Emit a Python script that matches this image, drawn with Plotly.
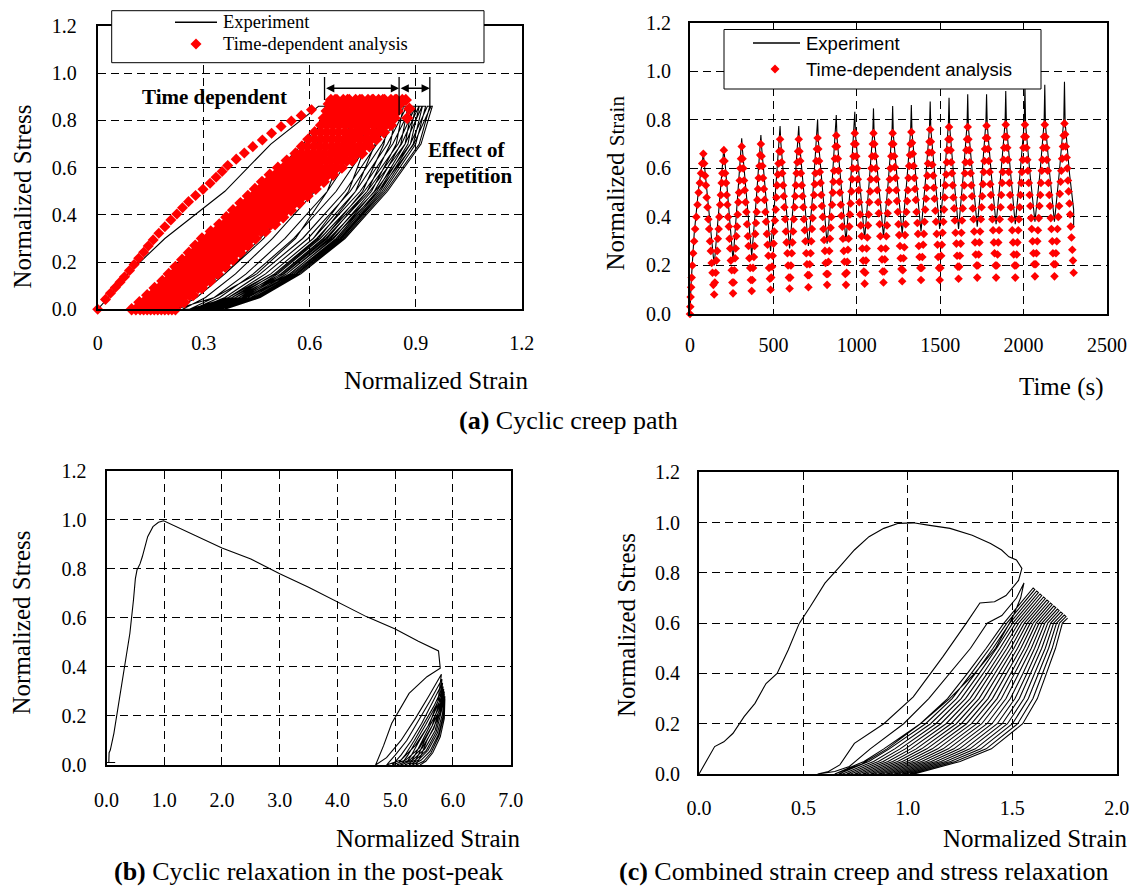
import plotly.graph_objects as go

W, H = 1137, 887
SERIF = "Liberation Serif"
SANS = "Liberation Sans"

# ---------------- tick labels ----------------
STRESS_TICKS = [0, 0.2, 0.4, 0.6, 0.8, 1.0, 1.2]
STRESS_TEXT = ["0.0", "0.2", "0.4", "0.6", "0.8", "1.0", "1.2"]
A_X_TICKS = [0, 0.3, 0.6, 0.9, 1.2]
A_X_TEXT = ["0", "0.3", "0.6", "0.9", "1.2"]
T_TICKS = [0, 500, 1000, 1500, 2000, 2500]
T_TEXT = ["0", "500", "1000", "1500", "2000", "2500"]
B_X_TICKS = [0, 1, 2, 3, 4, 5, 6, 7]
B_X_TEXT = ["0.0", "1.0", "2.0", "3.0", "4.0", "5.0", "6.0", "7.0"]
C_X_TICKS = [0, 0.5, 1.0, 1.5, 2.0]
C_X_TEXT = ["0.0", "0.5", "1.0", "1.5", "2.0"]

# ---------------- (a) left: experiment (strain at stress levels, alternating load/unload) ----------------
EXPA_LEVELS = [0.0, 0.05, 0.15, 0.3, 0.5, 0.7, 0.86]
EXPA_BRANCHES = [
    [0.0, 0.03, 0.085, 0.19, 0.36, 0.49, 0.625],
    [0.13, 0.24, 0.36, 0.47, 0.56, 0.62, 0.645],
    [0.13, 0.17, 0.23, 0.32, 0.45, 0.58, 0.68],
    [0.22, 0.33, 0.45, 0.56, 0.65, 0.70, 0.71],
    [0.22, 0.28, 0.36, 0.46, 0.58, 0.68, 0.75],
    [0.26, 0.37, 0.49, 0.61, 0.71, 0.76, 0.78],
    [0.24, 0.305, 0.39, 0.495, 0.615, 0.71, 0.775],
    [0.27, 0.38, 0.505, 0.625, 0.73, 0.785, 0.805],
    [0.26, 0.33, 0.42, 0.53, 0.65, 0.74, 0.80],
    [0.28, 0.39, 0.52, 0.64, 0.75, 0.81, 0.83],
    [0.27, 0.345, 0.44, 0.555, 0.675, 0.765, 0.823],
    [0.29, 0.40, 0.528, 0.65, 0.763, 0.828, 0.848],
    [0.28, 0.36, 0.46, 0.58, 0.70, 0.79, 0.845],
    [0.30, 0.41, 0.535, 0.66, 0.775, 0.845, 0.865],
    [0.29, 0.37, 0.475, 0.595, 0.715, 0.805, 0.86],
    [0.308, 0.418, 0.543, 0.668, 0.783, 0.858, 0.878],
    [0.30, 0.38, 0.49, 0.61, 0.73, 0.82, 0.875],
    [0.315, 0.425, 0.55, 0.675, 0.79, 0.87, 0.89],
    [0.308, 0.39, 0.50, 0.62, 0.743, 0.835, 0.888],
    [0.323, 0.433, 0.555, 0.68, 0.795, 0.878, 0.90],
    [0.315, 0.40, 0.51, 0.63, 0.755, 0.85, 0.90],
    [0.33, 0.44, 0.56, 0.685, 0.80, 0.885, 0.91],
    [0.323, 0.408, 0.518, 0.638, 0.763, 0.86, 0.909],
    [0.335, 0.445, 0.563, 0.688, 0.805, 0.893, 0.919],
    [0.33, 0.415, 0.525, 0.645, 0.77, 0.87, 0.918],
    [0.34, 0.45, 0.565, 0.69, 0.81, 0.90, 0.928],
    [0.34, 0.425, 0.535, 0.655, 0.785, 0.885, 0.933],
    [0.35, 0.455, 0.57, 0.695, 0.815, 0.91, 0.94],
    [0.35, 0.435, 0.545, 0.665, 0.795, 0.895, 0.943],
    [0.36, 0.46, 0.575, 0.70, 0.82, 0.915, 0.947],
]

# ---------------- (a) left: time-dependent analysis ----------------
RED_A_FIRST_X = [0.0, 0.022, 0.036, 0.05, 0.063, 0.076, 0.09, 0.103, 0.116, 0.13, 0.143,
                 0.157, 0.173, 0.19, 0.207, 0.224, 0.24, 0.257, 0.277, 0.298, 0.318, 0.335,
                 0.352, 0.368, 0.392, 0.415, 0.439, 0.466, 0.492, 0.519, 0.548, 0.576, 0.605]
RED_A_FIRST_Y = [0.0, 0.042, 0.068, 0.092, 0.115, 0.138, 0.164, 0.19, 0.216, 0.242, 0.268,
                 0.294, 0.322, 0.35, 0.378, 0.404, 0.43, 0.456, 0.482, 0.508, 0.534, 0.559,
                 0.584, 0.609, 0.636, 0.662, 0.689, 0.717, 0.746, 0.774, 0.798, 0.821, 0.845]
# stress levels of the analysis output (two interleaved sets)
RED_A_LEVELS = [0.0, 0.06, 0.12, 0.18, 0.24, 0.30, 0.36, 0.42, 0.48, 0.54, 0.60, 0.66,
                0.72, 0.78, 0.84, 0.887]
RED_A_LEVELS_B = [0.03, 0.09, 0.15, 0.21, 0.27, 0.33, 0.39, 0.45, 0.51, 0.57, 0.63, 0.69,
                  0.75, 0.81, 0.87, 0.887]
# reloading cycles, strain at RED_A_LEVELS
RED_A_CYCLES = [
    [0.096, 0.14, 0.183, 0.22, 0.258, 0.295, 0.344, 0.383, 0.425, 0.465, 0.51, 0.56, 0.596, 0.632, 0.648, 0.66],
    [0.12, 0.165, 0.209, 0.247, 0.285, 0.323, 0.373, 0.413, 0.455, 0.496, 0.542, 0.593, 0.63, 0.666, 0.683, 0.695],
    [0.14, 0.186, 0.231, 0.27, 0.309, 0.348, 0.4, 0.44, 0.484, 0.526, 0.573, 0.626, 0.663, 0.7, 0.718, 0.73],
    [0.16, 0.207, 0.253, 0.293, 0.334, 0.374, 0.426, 0.468, 0.513, 0.556, 0.604, 0.658, 0.697, 0.735, 0.752, 0.765],
    [0.18, 0.228, 0.275, 0.315, 0.357, 0.397, 0.451, 0.493, 0.539, 0.582, 0.631, 0.686, 0.725, 0.764, 0.782, 0.795],
    [0.2, 0.249, 0.297, 0.339, 0.381, 0.422, 0.477, 0.521, 0.567, 0.612, 0.662, 0.718, 0.759, 0.799, 0.817, 0.83],
    [0.22, 0.27, 0.319, 0.361, 0.404, 0.447, 0.502, 0.547, 0.594, 0.64, 0.691, 0.748, 0.789, 0.83, 0.849, 0.862],
]
# same cycles, strain at the first 15 of RED_A_LEVELS_B
RED_A_CYCLES_AB = [
    [0.118, 0.161, 0.201, 0.239, 0.276, 0.32, 0.364, 0.404, 0.445, 0.487, 0.535, 0.578, 0.614, 0.64, 0.654],
    [0.142, 0.187, 0.228, 0.266, 0.304, 0.348, 0.393, 0.434, 0.476, 0.519, 0.568, 0.612, 0.648, 0.675, 0.689],
    [0.163, 0.208, 0.25, 0.29, 0.329, 0.374, 0.42, 0.462, 0.505, 0.549, 0.60, 0.644, 0.682, 0.709, 0.724],
    [0.184, 0.23, 0.273, 0.314, 0.354, 0.40, 0.447, 0.49, 0.534, 0.58, 0.631, 0.677, 0.716, 0.744, 0.759],
    [0.204, 0.251, 0.295, 0.336, 0.377, 0.424, 0.472, 0.516, 0.561, 0.607, 0.659, 0.706, 0.745, 0.773, 0.789],
    [0.225, 0.273, 0.318, 0.36, 0.402, 0.45, 0.499, 0.544, 0.59, 0.637, 0.691, 0.739, 0.779, 0.808, 0.824],
    [0.245, 0.295, 0.34, 0.383, 0.425, 0.475, 0.525, 0.571, 0.617, 0.666, 0.72, 0.769, 0.81, 0.84, 0.856],
]
RED_A_HOLD = [[0.672], [0.707], [0.742], [0.777], [0.807], [0.842], [0.872]]
# intermediate cycles, strain at RED_A_LEVELS_B
RED_A_CYCLES_B = [
    [0.13, 0.174, 0.214, 0.253, 0.29, 0.334, 0.378, 0.419, 0.46, 0.503, 0.551, 0.594, 0.631, 0.657, 0.671, 0.677],
    [0.153, 0.198, 0.239, 0.278, 0.316, 0.361, 0.406, 0.448, 0.49, 0.534, 0.583, 0.628, 0.665, 0.692, 0.706, 0.712],
    [0.173, 0.219, 0.262, 0.302, 0.341, 0.387, 0.434, 0.477, 0.52, 0.565, 0.616, 0.661, 0.7, 0.727, 0.742, 0.748],
    [0.194, 0.241, 0.284, 0.325, 0.365, 0.412, 0.46, 0.503, 0.548, 0.593, 0.645, 0.692, 0.731, 0.759, 0.774, 0.78],
    [0.214, 0.262, 0.306, 0.348, 0.389, 0.437, 0.485, 0.53, 0.575, 0.622, 0.675, 0.722, 0.762, 0.79, 0.806, 0.812],
    [0.235, 0.284, 0.329, 0.372, 0.414, 0.462, 0.512, 0.557, 0.604, 0.651, 0.705, 0.754, 0.794, 0.824, 0.84, 0.846],
]
# same intermediate cycles, strain at the first 15 of RED_A_LEVELS
RED_A_CYCLES_BA = [
    [0.108, 0.152, 0.196, 0.233, 0.271, 0.309, 0.358, 0.398, 0.44, 0.48, 0.526, 0.576, 0.613, 0.649, 0.665],
    [0.13, 0.175, 0.22, 0.258, 0.297, 0.335, 0.386, 0.426, 0.469, 0.511, 0.557, 0.609, 0.646, 0.683, 0.70],
    [0.15, 0.197, 0.242, 0.282, 0.322, 0.361, 0.413, 0.454, 0.499, 0.541, 0.589, 0.642, 0.68, 0.718, 0.735],
    [0.17, 0.218, 0.264, 0.304, 0.345, 0.385, 0.438, 0.48, 0.526, 0.569, 0.618, 0.672, 0.711, 0.75, 0.767],
    [0.19, 0.239, 0.286, 0.327, 0.369, 0.41, 0.464, 0.507, 0.553, 0.597, 0.647, 0.702, 0.742, 0.781, 0.799],
    [0.21, 0.26, 0.308, 0.35, 0.393, 0.435, 0.49, 0.534, 0.581, 0.626, 0.677, 0.733, 0.774, 0.814, 0.833],
]
RED_A_TAIL_X = [0.882, 0.876]
RED_A_TAIL_Y = [0.85, 0.81]

# ---------------- (a) right: strain history ----------------
EXP_T = [0, 6, 25, 52, 76, 80, 84, 112, 145,
         174, 199, 203, 207, 230, 258,
         284, 306, 310, 314, 340, 370,
         398, 421, 425, 429, 454, 483,
         512, 536, 540, 544, 569, 597,
         625, 648, 652, 656, 681, 710,
         738, 761, 765, 769, 794, 822,
         850, 873, 877, 881, 906, 935,
         962, 984, 988, 992, 1018, 1047,
         1074, 1096, 1100, 1104, 1130, 1160,
         1188, 1211, 1215, 1219, 1244, 1272,
         1300, 1323, 1327, 1331, 1356, 1385,
         1413, 1436, 1440, 1444, 1469, 1497,
         1525, 1549, 1553, 1557, 1582, 1610,
         1638, 1661, 1665, 1669, 1694, 1722,
         1750, 1774, 1778, 1782, 1807, 1835,
         1864, 1889, 1893, 1897, 1922, 1950,
         1979, 2004, 2008, 2012, 2038, 2068,
         2098, 2123, 2127, 2131, 2156, 2185,
         2215, 2241, 2245, 2249, 2275, 2300, 2300]
EXP_V = [0.0, 0.12, 0.33, 0.52, 0.64, 0.67, 0.63, 0.42, 0.20,
         0.44, 0.66, 0.685, 0.65, 0.45, 0.22,
         0.47, 0.69, 0.724, 0.68, 0.47, 0.24,
         0.48, 0.70, 0.737, 0.69, 0.48, 0.26,
         0.50, 0.72, 0.774, 0.71, 0.50, 0.27,
         0.50, 0.72, 0.774, 0.71, 0.50, 0.28,
         0.51, 0.73, 0.802, 0.72, 0.51, 0.29,
         0.52, 0.74, 0.82, 0.73, 0.52, 0.30,
         0.53, 0.75, 0.833, 0.74, 0.53, 0.31,
         0.54, 0.75, 0.847, 0.74, 0.54, 0.32,
         0.54, 0.75, 0.857, 0.74, 0.54, 0.33,
         0.55, 0.76, 0.861, 0.75, 0.55, 0.34,
         0.56, 0.77, 0.875, 0.76, 0.56, 0.35,
         0.56, 0.78, 0.891, 0.77, 0.56, 0.35,
         0.57, 0.78, 0.905, 0.77, 0.57, 0.36,
         0.57, 0.79, 0.905, 0.78, 0.57, 0.37,
         0.58, 0.79, 0.919, 0.78, 0.58, 0.37,
         0.58, 0.79, 0.944, 0.78, 0.58, 0.38,
         0.58, 0.79, 0.944, 0.78, 0.58, 0.38,
         0.59, 0.80, 0.957, 0.79, 0.58, 0.43, 0.36]

# analysis: one row of times / values per rising or falling edge
RED_T_ROWS = [
    [0, 2, 4, 7, 10, 14, 19, 25, 31, 38, 45, 52, 59, 66, 73, 80],
    [85, 90, 95, 100, 105, 110, 115, 120, 125, 130, 135, 140, 145],
    [149, 154, 158, 163, 167, 172, 176, 181, 185, 190, 194, 199, 203],
    [207, 211, 216, 220, 224, 228, 233, 237, 241, 245, 250, 254, 258],
    [262, 266, 270, 274, 278, 282, 286, 290, 294, 298, 302, 306, 310],
    [315, 319, 324, 328, 333, 338, 342, 347, 351, 356, 361, 365, 370],
    [374, 378, 383, 387, 391, 395, 400, 404, 408, 412, 417, 421, 425],
    [429, 434, 438, 443, 447, 452, 456, 461, 465, 470, 474, 479, 483],
    [487, 492, 496, 501, 505, 509, 514, 518, 522, 527, 531, 536, 540],
    [544, 549, 553, 558, 562, 566, 571, 575, 579, 584, 588, 593, 597],
    [601, 605, 610, 614, 618, 622, 627, 631, 635, 639, 644, 648, 652],
    [656, 661, 665, 670, 674, 679, 683, 688, 692, 697, 701, 706, 710],
    [714, 718, 723, 727, 731, 735, 740, 744, 748, 752, 757, 761, 765],
    [769, 774, 778, 783, 787, 791, 796, 800, 804, 809, 813, 818, 822],
    [826, 830, 835, 839, 843, 847, 852, 856, 860, 864, 869, 873, 877],
    [881, 886, 890, 895, 899, 904, 908, 913, 917, 922, 926, 931, 935],
    [939, 943, 947, 951, 955, 959, 963, 968, 972, 976, 980, 984, 988],
    [993, 997, 1002, 1006, 1011, 1015, 1020, 1024, 1029, 1033, 1038, 1042, 1047],
    [1051, 1055, 1059, 1063, 1067, 1071, 1075, 1080, 1084, 1088, 1092, 1096, 1100],
    [1105, 1109, 1114, 1118, 1123, 1128, 1132, 1137, 1141, 1146, 1151, 1155, 1160],
    [1164, 1168, 1173, 1177, 1181, 1185, 1190, 1194, 1198, 1202, 1207, 1211, 1215],
    [1219, 1224, 1228, 1233, 1237, 1241, 1246, 1250, 1254, 1259, 1263, 1268, 1272],
    [1276, 1280, 1285, 1289, 1293, 1297, 1302, 1306, 1310, 1314, 1319, 1323, 1327],
    [1331, 1336, 1340, 1345, 1349, 1354, 1358, 1363, 1367, 1372, 1376, 1381, 1385],
    [1389, 1393, 1398, 1402, 1406, 1410, 1415, 1419, 1423, 1427, 1432, 1436, 1440],
    [1444, 1449, 1453, 1458, 1462, 1466, 1471, 1475, 1479, 1484, 1488, 1493, 1497],
    [1501, 1506, 1510, 1514, 1519, 1523, 1527, 1531, 1536, 1540, 1544, 1549, 1553],
    [1557, 1562, 1566, 1571, 1575, 1579, 1584, 1588, 1592, 1597, 1601, 1606, 1610],
    [1614, 1618, 1623, 1627, 1631, 1635, 1640, 1644, 1648, 1652, 1657, 1661, 1665],
    [1669, 1674, 1678, 1683, 1687, 1691, 1696, 1700, 1704, 1709, 1713, 1718, 1722],
    [1726, 1731, 1735, 1739, 1744, 1748, 1752, 1756, 1761, 1765, 1769, 1774, 1778],
    [1782, 1787, 1791, 1796, 1800, 1804, 1809, 1813, 1817, 1822, 1826, 1831, 1835],
    [1839, 1844, 1848, 1853, 1857, 1862, 1866, 1871, 1875, 1880, 1884, 1889, 1893],
    [1897, 1902, 1906, 1911, 1915, 1919, 1924, 1928, 1932, 1937, 1941, 1946, 1950],
    [1954, 1959, 1963, 1968, 1972, 1977, 1981, 1986, 1990, 1995, 1999, 2004, 2008],
    [2013, 2017, 2022, 2026, 2031, 2036, 2040, 2045, 2049, 2054, 2059, 2063, 2068],
    [2073, 2077, 2082, 2086, 2091, 2095, 2100, 2104, 2109, 2113, 2118, 2122, 2127],
    [2131, 2136, 2140, 2145, 2149, 2154, 2158, 2163, 2167, 2172, 2176, 2181, 2185],
    [2190, 2194, 2199, 2203, 2208, 2213, 2217, 2222, 2226, 2231, 2236, 2240, 2245],
    [2249, 2253, 2258, 2262, 2266, 2270, 2275, 2279, 2283, 2287, 2292, 2296, 2300],
]
RED_V_ROWS = [
    [0.0, 0.03, 0.07, 0.11, 0.15, 0.2, 0.25, 0.3, 0.35, 0.4, 0.45, 0.5, 0.54, 0.58, 0.62, 0.66],
    [0.62, 0.57, 0.53, 0.48, 0.44, 0.39, 0.35, 0.3, 0.26, 0.21, 0.17, 0.12, 0.08],
    [0.13, 0.17, 0.22, 0.26, 0.31, 0.35, 0.40, 0.45, 0.49, 0.54, 0.58, 0.63, 0.675],
    [0.63, 0.58, 0.54, 0.49, 0.45, 0.40, 0.36, 0.31, 0.27, 0.22, 0.18, 0.13, 0.085],
    [0.13, 0.18, 0.23, 0.27, 0.32, 0.36, 0.41, 0.46, 0.50, 0.55, 0.60, 0.64, 0.69],
    [0.64, 0.60, 0.55, 0.51, 0.46, 0.42, 0.37, 0.32, 0.28, 0.23, 0.19, 0.14, 0.095],
    [0.14, 0.19, 0.235, 0.28, 0.33, 0.375, 0.42, 0.47, 0.515, 0.56, 0.61, 0.655, 0.70],
    [0.65, 0.61, 0.56, 0.515, 0.47, 0.42, 0.38, 0.33, 0.285, 0.24, 0.19, 0.145, 0.10],
    [0.15, 0.195, 0.24, 0.29, 0.34, 0.385, 0.43, 0.48, 0.53, 0.575, 0.62, 0.67, 0.72],
    [0.67, 0.625, 0.58, 0.53, 0.485, 0.44, 0.39, 0.34, 0.295, 0.25, 0.20, 0.15, 0.105],
    [0.15, 0.20, 0.25, 0.295, 0.34, 0.39, 0.44, 0.485, 0.53, 0.58, 0.625, 0.67, 0.72],
    [0.67, 0.63, 0.58, 0.53, 0.485, 0.44, 0.39, 0.345, 0.30, 0.25, 0.205, 0.16, 0.11],
    [0.16, 0.205, 0.25, 0.30, 0.35, 0.395, 0.44, 0.49, 0.535, 0.58, 0.63, 0.68, 0.725],
    [0.68, 0.63, 0.585, 0.54, 0.49, 0.445, 0.40, 0.35, 0.305, 0.26, 0.21, 0.165, 0.12],
    [0.165, 0.215, 0.26, 0.31, 0.355, 0.40, 0.45, 0.50, 0.545, 0.59, 0.64, 0.69, 0.735],
    [0.69, 0.64, 0.59, 0.545, 0.50, 0.45, 0.405, 0.36, 0.31, 0.26, 0.215, 0.165, 0.12],
    [0.17, 0.215, 0.265, 0.31, 0.36, 0.41, 0.455, 0.505, 0.555, 0.60, 0.65, 0.70, 0.745],
    [0.70, 0.65, 0.60, 0.555, 0.51, 0.46, 0.41, 0.365, 0.32, 0.27, 0.22, 0.175, 0.125],
    [0.17, 0.22, 0.27, 0.315, 0.365, 0.41, 0.46, 0.505, 0.555, 0.60, 0.65, 0.70, 0.745],
    [0.70, 0.65, 0.60, 0.555, 0.51, 0.46, 0.415, 0.37, 0.32, 0.27, 0.225, 0.175, 0.13],
    [0.175, 0.225, 0.27, 0.32, 0.365, 0.415, 0.46, 0.51, 0.555, 0.60, 0.65, 0.70, 0.745],
    [0.70, 0.65, 0.605, 0.56, 0.51, 0.465, 0.42, 0.37, 0.325, 0.28, 0.23, 0.185, 0.135],
    [0.18, 0.23, 0.275, 0.325, 0.37, 0.42, 0.465, 0.51, 0.56, 0.61, 0.655, 0.70, 0.75],
    [0.705, 0.66, 0.61, 0.56, 0.515, 0.47, 0.42, 0.375, 0.33, 0.28, 0.235, 0.19, 0.14],
    [0.19, 0.235, 0.285, 0.33, 0.38, 0.43, 0.475, 0.52, 0.57, 0.62, 0.665, 0.71, 0.76],
    [0.71, 0.665, 0.615, 0.57, 0.52, 0.475, 0.425, 0.38, 0.33, 0.285, 0.235, 0.19, 0.14],
    [0.19, 0.24, 0.285, 0.335, 0.38, 0.43, 0.48, 0.53, 0.575, 0.625, 0.675, 0.72, 0.77],
    [0.72, 0.675, 0.625, 0.58, 0.53, 0.48, 0.435, 0.385, 0.335, 0.29, 0.24, 0.195, 0.145],
    [0.195, 0.24, 0.29, 0.335, 0.385, 0.435, 0.48, 0.53, 0.58, 0.625, 0.675, 0.72, 0.77],
    [0.72, 0.675, 0.625, 0.58, 0.53, 0.485, 0.435, 0.39, 0.34, 0.295, 0.245, 0.20, 0.15],
    [0.20, 0.245, 0.295, 0.34, 0.39, 0.44, 0.485, 0.535, 0.585, 0.63, 0.68, 0.725, 0.775],
    [0.725, 0.68, 0.63, 0.585, 0.535, 0.49, 0.44, 0.39, 0.345, 0.295, 0.25, 0.20, 0.15],
    [0.20, 0.245, 0.295, 0.345, 0.39, 0.44, 0.49, 0.54, 0.585, 0.635, 0.685, 0.73, 0.78],
    [0.73, 0.685, 0.635, 0.585, 0.54, 0.49, 0.44, 0.39, 0.345, 0.295, 0.245, 0.20, 0.15],
    [0.20, 0.245, 0.295, 0.345, 0.39, 0.44, 0.49, 0.54, 0.585, 0.635, 0.685, 0.73, 0.78],
    [0.73, 0.685, 0.635, 0.59, 0.54, 0.49, 0.445, 0.395, 0.35, 0.30, 0.25, 0.205, 0.155],
    [0.205, 0.25, 0.30, 0.345, 0.395, 0.445, 0.49, 0.54, 0.59, 0.635, 0.685, 0.73, 0.78],
    [0.73, 0.685, 0.635, 0.59, 0.54, 0.49, 0.445, 0.395, 0.35, 0.30, 0.25, 0.205, 0.155],
    [0.205, 0.25, 0.30, 0.35, 0.40, 0.445, 0.495, 0.545, 0.59, 0.64, 0.69, 0.735, 0.785],
    [0.74, 0.69, 0.645, 0.60, 0.55, 0.505, 0.455, 0.41, 0.36, 0.315, 0.265, 0.22, 0.17],
]

# ---------------- (b) cyclic relaxation in the post-peak ----------------
B_MAIN_X = [0.15, 0.0, 0.04, 0.045, 0.066, 0.128, 0.22, 0.313, 0.405, 0.467, 0.50, 0.528,
            0.58, 0.62, 0.713, 0.805, 0.9, 0.99, 1.5, 2.0, 2.5, 3.0, 3.5, 4.0, 4.5, 5.0,
            5.4, 5.75, 5.76, 5.78]
B_MAIN_Y = [0.01, 0.01, 0.01, 0.05, 0.061, 0.129, 0.265, 0.401, 0.537, 0.673, 0.76, 0.795,
            0.82, 0.849, 0.931, 0.972, 0.99, 0.996, 0.94, 0.885, 0.84, 0.78, 0.725, 0.665,
            0.605, 0.555, 0.505, 0.465, 0.44, 0.395]
B_LOOP_X = [
    [5.78, 5.55, 5.24, 4.94, 4.80, 4.66],
    [4.66, 4.85, 5.1, 5.35, 5.58, 5.80],
    [5.80, 5.74, 5.6, 5.35, 5.1, 4.85],
    [4.85, 5.0, 5.2, 5.4, 5.6, 5.81],
    [5.81, 5.76, 5.64, 5.42, 5.18, 4.95],
    [4.95, 5.1, 5.28, 5.46, 5.64, 5.82],
    [5.82, 5.78, 5.67, 5.47, 5.25, 5.03],
    [5.03, 5.17, 5.33, 5.5, 5.67, 5.83],
    [5.83, 5.79, 5.69, 5.51, 5.3, 5.1],
    [5.1, 5.22, 5.37, 5.53, 5.69, 5.84],
    [5.84, 5.8, 5.71, 5.54, 5.35, 5.17],
    [5.17, 5.28, 5.42, 5.57, 5.71, 5.85],
    [5.85, 5.82, 5.73, 5.57, 5.4, 5.24],
    [5.24, 5.34, 5.47, 5.6, 5.73, 5.85],
    [5.85, 5.83, 5.75, 5.6, 5.45, 5.3],
    [5.3, 5.4, 5.51, 5.63, 5.75, 5.86],
    [5.86, 5.84, 5.76, 5.62, 5.49, 5.36],
    [5.36, 5.45, 5.55, 5.66, 5.77, 5.86],
    [5.86, 5.85, 5.78, 5.65, 5.53, 5.43],
]
B_LOOP_Y = [
    [0.395, 0.36, 0.292, 0.17, 0.08, 0.0],
    [0.0, 0.03, 0.1, 0.19, 0.28, 0.37],
    [0.37, 0.26, 0.17, 0.08, 0.02, 0.0],
    [0.0, 0.04, 0.1, 0.18, 0.26, 0.35],
    [0.35, 0.25, 0.16, 0.07, 0.02, 0.0],
    [0.0, 0.04, 0.1, 0.17, 0.25, 0.335],
    [0.335, 0.24, 0.15, 0.07, 0.02, 0.0],
    [0.0, 0.04, 0.1, 0.17, 0.24, 0.32],
    [0.32, 0.23, 0.14, 0.065, 0.02, 0.0],
    [0.0, 0.04, 0.1, 0.165, 0.235, 0.31],
    [0.31, 0.22, 0.135, 0.06, 0.02, 0.0],
    [0.0, 0.04, 0.1, 0.16, 0.23, 0.30],
    [0.30, 0.21, 0.13, 0.06, 0.02, 0.0],
    [0.0, 0.04, 0.1, 0.16, 0.22, 0.29],
    [0.29, 0.2, 0.125, 0.055, 0.02, 0.0],
    [0.0, 0.04, 0.1, 0.155, 0.215, 0.28],
    [0.28, 0.2, 0.12, 0.05, 0.015, 0.0],
    [0.0, 0.04, 0.1, 0.15, 0.21, 0.27],
    [0.27, 0.19, 0.115, 0.05, 0.015, 0.0],
]

# ---------------- (c) combined strain creep and stress relaxation ----------------
C_MAIN_X = [0.0, 0.04, 0.075, 0.119, 0.163, 0.216, 0.268, 0.321, 0.374, 0.427, 0.48, 0.533,
            0.603, 0.674, 0.744, 0.814, 0.885, 0.955, 1.026, 1.097, 1.202, 1.308, 1.396,
            1.449, 1.484, 1.52, 1.546]
C_MAIN_Y = [0.0, 0.056, 0.109, 0.128, 0.162, 0.228, 0.281, 0.36, 0.4, 0.493, 0.599, 0.666,
            0.759, 0.825, 0.891, 0.944, 0.977, 0.997, 0.999, 0.99, 0.977, 0.95, 0.917,
            0.891, 0.864, 0.851, 0.818]
C_EARLY_X = [1.53, 1.47, 1.415, 1.345, 1.28, 1.168, 1.026, 0.885, 0.744, 0.674, 0.62, 0.568,
             0.65, 0.72, 0.82, 0.98, 1.1, 1.2, 1.3, 1.38, 1.45, 1.52, 1.556,
             1.54, 1.5, 1.42, 1.32, 1.2, 1.06, 0.9, 0.78, 0.65]
C_EARLY_Y = [0.77, 0.71, 0.685, 0.68, 0.6, 0.467, 0.307, 0.2, 0.122, 0.036, 0.01, 0.0,
             0.01, 0.03, 0.1, 0.2, 0.3, 0.4, 0.5, 0.6, 0.63, 0.7, 0.76,
             0.7, 0.62, 0.5, 0.4, 0.3, 0.2, 0.1, 0.04, 0.0]
C_LEVELS = [0.0, 0.05, 0.1, 0.2, 0.3, 0.4, 0.5, 0.6]
C_BAND = [
    [0.65, 0.79, 0.885, 1.06, 1.19, 1.285, 1.375, 1.46],
    [0.669, 0.813, 0.911, 1.085, 1.212, 1.304, 1.392, 1.474],
    [0.688, 0.836, 0.937, 1.109, 1.233, 1.323, 1.408, 1.488],
    [0.707, 0.859, 0.963, 1.134, 1.255, 1.342, 1.425, 1.502],
    [0.726, 0.882, 0.988, 1.158, 1.276, 1.361, 1.441, 1.516],
    [0.745, 0.905, 1.014, 1.183, 1.298, 1.38, 1.458, 1.53],
    [0.764, 0.928, 1.04, 1.207, 1.319, 1.399, 1.475, 1.544],
    [0.783, 0.951, 1.066, 1.232, 1.341, 1.418, 1.492, 1.558],
    [0.802, 0.974, 1.091, 1.256, 1.362, 1.437, 1.508, 1.572],
    [0.821, 0.997, 1.117, 1.281, 1.384, 1.456, 1.525, 1.586],
    [0.84, 1.02, 1.143, 1.305, 1.405, 1.475, 1.541, 1.6],
    [0.859, 1.043, 1.169, 1.33, 1.427, 1.494, 1.558, 1.614],
    [0.878, 1.066, 1.194, 1.354, 1.448, 1.513, 1.574, 1.628],
    [0.897, 1.089, 1.22, 1.379, 1.47, 1.532, 1.591, 1.642],
    [0.916, 1.112, 1.246, 1.403, 1.491, 1.551, 1.607, 1.656],
    [0.935, 1.135, 1.272, 1.428, 1.513, 1.57, 1.624, 1.67],
    [0.954, 1.158, 1.297, 1.452, 1.534, 1.589, 1.641, 1.684],
    [0.973, 1.181, 1.323, 1.477, 1.556, 1.608, 1.658, 1.698],
    [0.992, 1.204, 1.349, 1.501, 1.577, 1.627, 1.674, 1.712],
    [1.011, 1.227, 1.375, 1.526, 1.599, 1.646, 1.691, 1.726],
    [1.03, 1.25, 1.40, 1.55, 1.62, 1.665, 1.707, 1.74],
]
C_PEAK_X = [1.6, 1.608, 1.617, 1.625, 1.633, 1.641, 1.65, 1.658, 1.666, 1.675, 1.683,
            1.691, 1.699, 1.708, 1.716, 1.724, 1.732, 1.741, 1.749, 1.757, 1.765]
C_PEAK_Y = [0.74, 0.734, 0.728, 0.722, 0.716, 0.71, 0.704, 0.698, 0.692, 0.686, 0.68,
            0.674, 0.668, 0.662, 0.656, 0.65, 0.644, 0.638, 0.632, 0.626, 0.62]

assert len(EXP_T) == len(EXP_V)
assert len(RED_A_FIRST_X) == len(RED_A_FIRST_Y)
assert [len(r) for r in RED_T_ROWS] == [len(r) for r in RED_V_ROWS]
assert len(B_MAIN_X) == len(B_MAIN_Y)
assert len(C_MAIN_X) == len(C_MAIN_Y) and len(C_EARLY_X) == len(C_EARLY_Y)

# ---------------- build paths ----------------
expa_x, expa_y = [], []
for i, br in enumerate(EXPA_BRANCHES):
    if i % 2 == 0:
        expa_x += br
        expa_y += EXPA_LEVELS
    else:
        expa_x += br[::-1]
        expa_y += EXPA_LEVELS[::-1]

band_x, band_y = [], []
for cyc, cyc_b, hold in zip(RED_A_CYCLES, RED_A_CYCLES_AB, RED_A_HOLD):
    band_x += cyc + cyc_b + hold
    band_y += RED_A_LEVELS + RED_A_LEVELS_B[:len(cyc_b)] + [RED_A_LEVELS[-1]] * len(hold)
for cyc, cyc_a in zip(RED_A_CYCLES_B, RED_A_CYCLES_BA):
    band_x += cyc + cyc_a
    band_y += RED_A_LEVELS_B + RED_A_LEVELS[:len(cyc_a)]
band_x += RED_A_TAIL_X
band_y += RED_A_TAIL_Y

red_t, red_v = [], []
for rt, rv in zip(RED_T_ROWS, RED_V_ROWS):
    red_t += rt
    red_v += rv

b_x, b_y = list(B_MAIN_X), list(B_MAIN_Y)
for lx, ly in zip(B_LOOP_X, B_LOOP_Y):
    b_x += lx
    b_y += ly

c_x, c_y = C_MAIN_X + C_EARLY_X, C_MAIN_Y + C_EARLY_Y
for i, line in enumerate(C_BAND):
    xs = line + [C_PEAK_X[i]]
    ys = C_LEVELS + [C_PEAK_Y[i]]
    if i % 2:
        xs, ys = xs[::-1], ys[::-1]
    c_x += xs
    c_y += ys

# ---------------- layout helpers ----------------
BOX = {
    "aL": (97.7, 26.0, 521.7, 309.3),
    "aR": (690.0, 22.7, 1107.0, 314.0),
    "b": (106.5, 470.7, 510.7, 765.0),
    "c": (699.0, 472.3, 1116.7, 774.0),
}


def px(x):
    return x / W


def py(y):
    return 1 - y / H


def dom(key):
    l, t, r, b = BOX[key]
    return [px(l), px(r)], [py(b), py(t)]


def axis(rng, vals, texts, domain, anchor, standoff):
    return dict(domain=domain, range=rng, tickmode="array", tickvals=vals, ticktext=texts,
                showline=True, mirror=True, linecolor="black", linewidth=1.8,
                showgrid=True, gridcolor="black", gridwidth=1, griddash="8px,5px",
                zeroline=False, ticks="", ticklabelstandoff=standoff, automargin=False,
                tickfont=dict(family=SERIF, size=20, color="black"),
                anchor=anchor, fixedrange=True)


fig = go.Figure()
LINE = dict(color="black", width=1.1)
RED = "#ff0000"
fig.add_trace(go.Scatter(x=expa_x, y=expa_y, mode="lines", line=LINE, xaxis="x", yaxis="y",
                         showlegend=False, hoverinfo="skip"))
fig.add_trace(go.Scatter(x=band_x, y=band_y, mode="markers", cliponaxis=False,
                         marker=dict(symbol="diamond", size=9.5, color=RED, line=dict(width=0)),
                         xaxis="x", yaxis="y", showlegend=False, hoverinfo="skip"))
fig.add_trace(go.Scatter(x=RED_A_FIRST_X, y=RED_A_FIRST_Y, mode="markers", cliponaxis=False,
                         marker=dict(symbol="diamond", size=8.5, color=RED, line=dict(width=0)),
                         xaxis="x", yaxis="y", showlegend=False, hoverinfo="skip"))
fig.add_trace(go.Scatter(x=EXP_T, y=EXP_V, mode="lines", line=LINE, xaxis="x2", yaxis="y2",
                         showlegend=False, hoverinfo="skip"))
fig.add_trace(go.Scatter(x=red_t, y=red_v, mode="markers", cliponaxis=False,
                         marker=dict(symbol="diamond", size=6.6, color=RED, line=dict(width=0)),
                         xaxis="x2", yaxis="y2", showlegend=False, hoverinfo="skip"))
fig.add_trace(go.Scatter(x=b_x, y=b_y, mode="lines", line=LINE, xaxis="x3", yaxis="y3",
                         showlegend=False, hoverinfo="skip"))
fig.add_trace(go.Scatter(x=c_x, y=c_y, mode="lines", line=LINE, xaxis="x4", yaxis="y4",
                         showlegend=False, hoverinfo="skip"))

dxa, dya = dom("aL")
dxr, dyr = dom("aR")
dxb, dyb = dom("b")
dxc, dyc = dom("c")
fig.update_layout(
    width=W, height=H, margin=dict(l=0, r=0, t=0, b=0, pad=0), autosize=False,
    paper_bgcolor="white", plot_bgcolor="white", showlegend=False,
    xaxis=axis([0, 1.2], A_X_TICKS, A_X_TEXT, dxa, "y", 15),
    yaxis=axis([0, 1.2], STRESS_TICKS, STRESS_TEXT, dya, "x", 15),
    xaxis2=axis([0, 2500], T_TICKS, T_TEXT, dxr, "y2", 12),
    yaxis2=axis([0, 1.2], STRESS_TICKS, STRESS_TEXT, dyr, "x2", 13),
    xaxis3=axis([0, 7], B_X_TICKS, B_X_TEXT, dxb, "y3", 16),
    yaxis3=axis([0, 1.2], STRESS_TICKS, STRESS_TEXT, dyb, "x3", 14),
    xaxis4=axis([0, 2], C_X_TICKS, C_X_TEXT, dxc, "y4", 15),
    yaxis4=axis([0, 1.2], STRESS_TICKS, STRESS_TEXT, dyc, "x4", 13),
)

ann = []
shapes = []


def text(t, x, y, size=25, family=SERIF, angle=0, xanchor="center"):
    ann.append(dict(text=t, x=px(x), y=py(y), xref="paper", yref="paper", showarrow=False,
                    xanchor=xanchor, yanchor="middle", textangle=angle,
                    font=dict(family=family, size=size, color="black")))


# axis titles
text("Normalized Strain", 436.5, 380)
text("Normalized Stress", 22, 196.5, angle=-90)
text("Time (s)", 1061, 387)
text("Normalized <span style='font-size:21px'>Strain</span>", 615, 183.5, angle=-90)
text("Normalized Strain", 428, 838)
text("Normalized Stress", 21, 622.5, angle=-90)
text("Normalized Strain", 1035, 838)
text("Normalized Stress", 626, 625, angle=-90)
# captions
text("<b>(a)</b> Cyclic creep path", 568, 420, size=26)
text("<b>(b)</b> Cyclic relaxation in the post-peak", 308.7, 871.7, size=26)
text("<b>(c)</b> Combined strain creep and stress relaxation", 863.6, 871.7, size=26)
# in-plot notes
text("<b>Time dependent</b>", 214, 96.7, size=21)
text("<b>Effect of</b>", 466, 150, size=21)
text("<b>repetition</b>", 468.5, 176, size=21)


def legend(box, line_seg, line_y, dia_c, dia_r, t1, t2, text_x, family, size):
    l, t, r, b = box
    shapes.append(dict(type="rect", xref="paper", yref="paper", x0=px(l), x1=px(r), y0=py(b), y1=py(t),
                       fillcolor="white", line=dict(color="black", width=1), layer="above"))
    shapes.append(dict(type="line", xref="paper", yref="paper", x0=px(line_seg[0]), x1=px(line_seg[1]),
                       y0=py(line_y), y1=py(line_y), line=dict(color="black", width=1.5), layer="above"))
    cx, cy = dia_c
    path = (f"M {px(cx - dia_r)},{py(cy)} L {px(cx)},{py(cy - dia_r)} "
            f"L {px(cx + dia_r)},{py(cy)} L {px(cx)},{py(cy + dia_r)} Z")
    shapes.append(dict(type="path", xref="paper", yref="paper", path=path, fillcolor=RED,
                       line=dict(color=RED, width=0), layer="above"))
    text(t1, text_x, line_y, size=size, family=family, xanchor="left")
    text(t2, text_x, cy, size=size, family=family, xanchor="left")


legend((111.7, 10.7, 484, 62.7), (175, 217), 22.3, (196, 44.0), 5.5,
       "Experiment", "Time-dependent analysis", 221, SERIF, 18.5)
legend((724, 29.5, 1041, 89), (753, 800), 43, (775, 69), 4.5,
       "Experiment", "Time-dependent analysis", 804, SANS, 18.5)

# dimension arrows in (a) left
for x0, x1 in [(0.642, 0.853), (0.853, 0.94)]:
    ann.append(dict(x=x1, y=0.936, ax=x0, ay=0.936, xref="x", yref="y", axref="x", ayref="y",
                    text="", showarrow=True, arrowhead=2, startarrowhead=2, arrowside="end+start",
                    arrowsize=1.1, startarrowsize=1.1, arrowwidth=1.5, arrowcolor="black"))
for xv, yb in [(0.642, 0.887), (0.853, 0.823), (0.94, 0.85)]:
    shapes.append(dict(type="line", xref="x", yref="y", x0=xv, x1=xv, y0=yb, y1=0.984,
                       line=dict(color="black", width=1.3), layer="above"))

fig.update_layout(annotations=ann, shapes=shapes)
fig.write_html("out.html", config={"displayModeBar": False},
               post_script="document.documentElement.style.margin='0';"
                           "document.body.style.margin='0';document.body.style.padding='0';"
                           "document.body.style.overflow='hidden';")
